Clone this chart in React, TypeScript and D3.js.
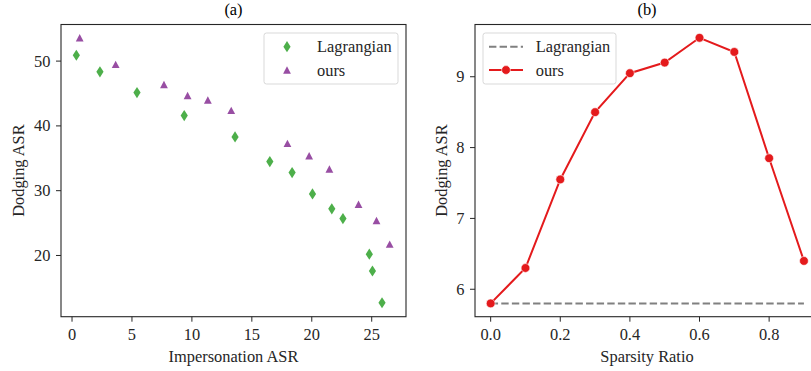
import React from "react";
import * as d3 from "d3";

// panel (a): impersonation vs dodging ASR
const lagX = [0.36, 2.33, 5.42, 9.36, 13.6, 16.5, 18.36, 20.06, 21.67, 22.6, 24.8, 25.06, 25.86];
const lagY = [50.9, 48.35, 45.15, 41.6, 38.3, 34.5, 32.8, 29.5, 27.2, 25.7, 20.2, 17.6, 12.7];
const oursX = [0.64, 3.64, 7.67, 9.64, 11.33, 13.28, 17.97, 19.78, 21.47, 23.9, 25.4, 26.5];
const oursY = [53.6, 49.5, 46.4, 44.7, 44.0, 42.4, 37.3, 35.4, 33.35, 27.9, 25.4, 21.75];
const xTicksA = [0, 5, 10, 15, 20, 25];
const yTicksA = [20, 30, 40, 50];

// panel (b): sparsity ratio
const ratios = [0.0, 0.1, 0.2, 0.3, 0.4, 0.5, 0.6, 0.7, 0.8, 0.9];
const oursB = [5.8, 6.3, 7.55, 8.5, 9.05, 9.2, 9.55, 9.35, 7.85, 6.4];
const lagB = [5.8, 5.8, 5.8, 5.8, 5.8, 5.8, 5.8, 5.8, 5.8, 5.8];
const xTicksB = [0.0, 0.2, 0.4, 0.6, 0.8];
const yTicksB = [6, 7, 8, 9];

const GREEN = "#4daf4a";
const PURPLE = "#984ea3";
const RED = "#e41a1c";
const GRAY = "#808080";
const FONT = "'Liberation Serif', 'Times New Roman', serif";
const FS = 16.4;
const INK = "#262626";

const top = 24.5;
const bottom = 316.7;

function diamond(cx: number, cy: number) {
  const w = 3.6, h = 5.6;
  return `M${cx},${cy - h}L${cx + w},${cy}L${cx},${cy + h}L${cx - w},${cy}Z`;
}
function triangle(cx: number, cy: number) {
  const w = 3.9, h = 3.7;
  return `M${cx},${cy - h}L${cx + w},${cy + h}L${cx - w},${cy + h}Z`;
}

function PanelA() {
  const x = d3.scaleLinear().domain([-0.92, 27.86]).range([61, 406]);
  const y = d3.scaleLinear().domain([10.55, 55.65]).range([bottom, top]);
  return (
    <g>
      <text x={233.5} y={15} textAnchor="middle" fontSize={FS} fontFamily={FONT}>(a)</text>
      {lagX.map((v, i) => (
        <path key={"l" + i} d={diamond(x(v), y(lagY[i]))} fill={GREEN} />
      ))}
      {oursX.map((v, i) => (
        <path key={"o" + i} d={triangle(x(v), y(oursY[i]))} fill={PURPLE} />
      ))}
      <rect x={61} y={top} width={406 - 61} height={bottom - top} fill="none" stroke={INK} strokeWidth={1.1} />
      {xTicksA.map((t) => (
        <g key={t} transform={`translate(${x(t)},${bottom})`}>
          <line y2={5} stroke={INK} strokeWidth={1} />
          <text y={23} textAnchor="middle" fontSize={FS} fontFamily={FONT} fill={INK}>{t}</text>
        </g>
      ))}
      {yTicksA.map((t) => (
        <g key={t} transform={`translate(61,${y(t)})`}>
          <line x2={-5} stroke={INK} strokeWidth={1} />
          <text x={-10.5} dy="0.34em" textAnchor="end" fontSize={FS} fontFamily={FONT} fill={INK}>{t}</text>
        </g>
      ))}
      <text x={233.5} y={362} textAnchor="middle" fontSize={FS} fontFamily={FONT} fill={INK}>Impersonation ASR</text>
      <text transform={`translate(24,${(top + bottom) / 2}) rotate(-90)`} textAnchor="middle" fontSize={FS} fontFamily={FONT} fill={INK}>Dodging ASR</text>
      <g>
        <rect x={264} y={33} width={134} height={51} rx={2.5} fill="#fff" fillOpacity={0.8} stroke="#d9d9d9" strokeWidth={1} />
        <path d={diamond(287, 46.7)} fill={GREEN} />
        <text x={317} y={46.7} dy="0.34em" fontSize={FS} fontFamily={FONT} fill={INK}>Lagrangian</text>
        <path d={triangle(287, 70)} fill={PURPLE} />
        <text x={317} y={70} dy="0.34em" fontSize={FS} fontFamily={FONT} fill={INK}>ours</text>
      </g>
    </g>
  );
}

function PanelB() {
  const x = d3.scaleLinear().domain([-0.045, 0.945]).range([475, 819.6]);
  const y = d3.scaleLinear().domain([5.6125, 9.7375]).range([bottom, top]);
  const line = d3.line<number>().x((_, i) => x(ratios[i])).y((d) => y(d));
  return (
    <g>
      <text x={647} y={15} textAnchor="middle" fontSize={FS} fontFamily={FONT}>(b)</text>
      <path d={line(lagB) || ""} fill="none" stroke={GRAY} strokeWidth={2} strokeDasharray="7.4,3.2" />
      <path d={line(oursB) || ""} fill="none" stroke={RED} strokeWidth={2} />
      {oursB.map((v, i) => (
        <circle key={i} cx={x(ratios[i])} cy={y(v)} r={4.4} fill={RED} stroke="#fff" strokeWidth={0.6} />
      ))}
      <rect x={475} y={top} width={819.6 - 475} height={bottom - top} fill="none" stroke={INK} strokeWidth={1.1} />
      {xTicksB.map((t) => (
        <g key={t} transform={`translate(${x(t)},${bottom})`}>
          <line y2={5} stroke={INK} strokeWidth={1} />
          <text y={23} textAnchor="middle" fontSize={FS} fontFamily={FONT} fill={INK}>{t.toFixed(1)}</text>
        </g>
      ))}
      {yTicksB.map((t) => (
        <g key={t} transform={`translate(475,${y(t)})`}>
          <line x2={-5} stroke={INK} strokeWidth={1} />
          <text x={-10.5} dy="0.34em" textAnchor="end" fontSize={FS} fontFamily={FONT} fill={INK}>{t}</text>
        </g>
      ))}
      <text x={647} y={362} textAnchor="middle" fontSize={FS} fontFamily={FONT} fill={INK}>Sparsity Ratio</text>
      <text transform={`translate(447,${(top + bottom) / 2}) rotate(-90)`} textAnchor="middle" fontSize={FS} fontFamily={FONT} fill={INK}>Dodging ASR</text>
      <g>
        <rect x={483} y={33} width={133} height={51} rx={2.5} fill="#fff" fillOpacity={0.8} stroke="#d9d9d9" strokeWidth={1} />
        <line x1={489} x2={523} y1={46.7} y2={46.7} stroke={GRAY} strokeWidth={2} strokeDasharray="7.4,3.2" />
        <text x={535.7} y={46.7} dy="0.34em" fontSize={FS} fontFamily={FONT} fill={INK}>Lagrangian</text>
        <line x1={489} x2={523} y1={70} y2={70} stroke={RED} strokeWidth={2} />
        <circle cx={506} cy={70} r={4.4} fill={RED} stroke="#fff" strokeWidth={0.6} />
        <text x={535.7} y={70} dy="0.34em" fontSize={FS} fontFamily={FONT} fill={INK}>ours</text>
      </g>
    </g>
  );
}

export default function App() {
  return (
    <div style={{ position: "absolute", left: 0, top: 0 }}>
      <svg width={811} height={371} style={{ display: "block", background: "#fff" }}>
        <PanelA />
        <PanelB />
      </svg>
    </div>
  );
}
